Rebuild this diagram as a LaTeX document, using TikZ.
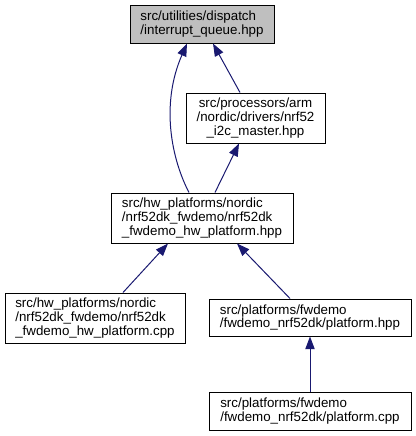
\documentclass[tikz,border=0pt]{standalone}
\usepackage{fontspec}
\setmainfont{Liberation Sans}
\usetikzlibrary{arrows.meta,positioning,calc}
\definecolor{edgeBlue}{RGB}{25,25,112}
\definecolor{curGray}{RGB}{191,191,191}

\begin{document}
\begin{tikzpicture}[
  x=0.75pt, y=-0.75pt,
  file/.style={draw=black, line width=0.75pt, fill=white, align=left, inner sep=0pt, font=\fontsize{10}{10.2}\selectfont},
  cur/.style={file, fill=curGray},
  dep/.style={-{Triangle[length=9.5pt,width=7pt]}, line width=0.75pt, edgeBlue}
]
  \useasboundingbox (0,0) rectangle (416,436);

  % top: the header itself
  \node[cur, minimum width=108pt, minimum height=28.5pt] (queue) at (202,24) {src/utilities/dispatch\\/interrupt\_queue.hpp};

  % direct includers
  \node[file, align=center, minimum width=104.25pt, minimum height=37.5pt] (i2c) at (255.5,118) {src/processors/arm\\/nordic/drivers/nrf52\\\_i2c\_master.hpp};
  \node[file, minimum width=136.5pt, minimum height=37.5pt] (hwhpp) at (202,218) {src/hw\_platforms/nordic\\/nrf52dk\_fwdemo/nrf52dk\\\_fwdemo\_hw\_platform.hpp};

  % lower level
  \node[file, minimum width=135pt, minimum height=37.5pt] (hwcpp) at (95,318) {src/hw\_platforms/nordic\\/nrf52dk\_fwdemo/nrf52dk\\\_fwdemo\_hw\_platform.cpp};
  \node[file, minimum width=151.5pt, minimum height=27.75pt] (phpp) at (310,317.5) {src/platforms/fwdemo\\/fwdemo\_nrf52dk/platform.hpp};
  \node[file, minimum width=151.5pt, minimum height=28.5pt] (pcpp) at (310,411) {src/platforms/fwdemo\\/fwdemo\_nrf52dk/platform.cpp};

  \draw[dep] ($(hwhpp.north)+(-13,0)$) .. controls (172,160) and (160,105) .. ($(queue.south)+(-15,0)$);
  \draw[dep] ($(i2c.north)+(-15.5,0)$) -- ($(queue.south)+(11,0)$);
  \draw[dep] ($(hwhpp.north)+(13,0)$) -- ($(i2c.south)+(-16.5,0)$);
  \draw[dep] ($(hwcpp.north)+(28,0)$) -- ($(hwhpp.south)+(-34,0)$);
  \draw[dep] ($(phpp.north)+(-20,0)$) -- ($(hwhpp.south)+(35,0)$);
  \draw[dep] (pcpp) -- (phpp);
\end{tikzpicture}
\end{document}
